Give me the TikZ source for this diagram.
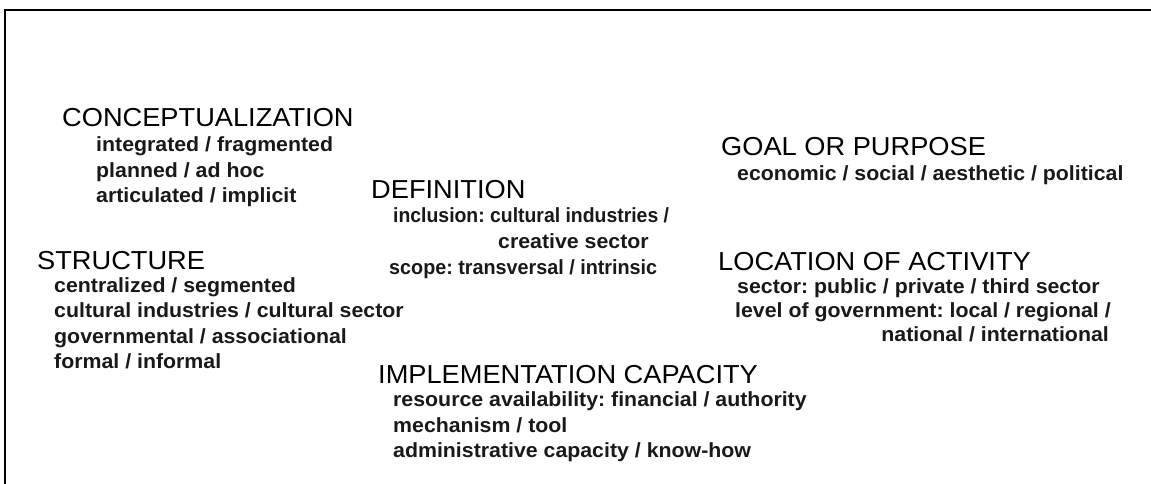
\documentclass[tikz,border=0pt]{standalone}
\usepackage{fontspec}
\setmainfont{Liberation Sans}
\newfontfamily\headfont{Liberation Sans}[FakeStretch=1.047]
\newfontfamily\itemfont{Liberation Sans}[FakeStretch=1.04]
\newfontfamily\incfont{Liberation Sans}[FakeStretch=0.946]
\newfontfamily\scopefont{Liberation Sans}[FakeStretch=0.964]
\frenchspacing
\begin{document}
\begin{tikzpicture}[x=1pt,y=-1pt,
  head/.style={font=\headfont\fontsize{26}{30}\selectfont, anchor=base west, inner sep=0pt},
  item/.style={font=\itemfont\bfseries\fontsize{20.5}{25}\selectfont, anchor=base west, inner sep=0pt, text=black!90}]
\useasboundingbox (0,0) rectangle (1151,484);
\draw[line width=2pt] (5,484) -- (5,10) -- (1151,10);
% Conceptualization
\node[head] (conc) at (62,127) {CONCEPTUALIZATION};
\node[item] (conc1) at (96,152) {integrated / fragmented};
\node[item] (conc2) at (96,177) {planned / ad hoc};
\node[item] (conc3) at (96,202) {articulated / implicit};
% Goal
\node[head] (goal) at (721,156) {GOAL OR PURPOSE};
\node[item] (goal1) at (737,180) {economic / social / aesthetic / political};
% Definition
\node[head] (def) at (371,198) {DEFINITION};
\node[item, font=\incfont\bfseries\fontsize{20.5}{25}\selectfont] (def1) at (393,222) {inclusion: cultural industries /};
\node[item] (def2) at (498,248) {creative sector};
\node[item, font=\scopefont\bfseries\fontsize{20.5}{25}\selectfont] (def3) at (389,274) {scope: transversal / intrinsic};
% Structure
\node[head] (str) at (37,269) {STRUCTURE};
\node[item] (str1) at (54,292) {centralized / segmented};
\node[item] (str2) at (54,317) {cultural industries / cultural sector};
\node[item] (str3) at (54,343) {governmental / associational};
\node[item] (str4) at (54,368) {formal / informal};
% Location
\node[head] (loc) at (718,270) {LOCATION OF ACTIVITY};
\node[item] (loc1) at (737,293) {sector: public / private / third sector};
\node[item] (loc2) at (735,317) {level of government: local / regional /};
\node[item, anchor=base east] (loc3) at (1109,341) {national / international};
% Implementation
\node[head] (impl) at (378,383) {IMPLEMENTATION CAPACITY};
\node[item] (impl1) at (393,406) {resource availability: financial / authority};
\node[item] (impl2) at (393,432) {mechanism / tool};
\node[item] (impl3) at (393,457) {administrative capacity / know-how};
\end{tikzpicture}
\end{document}
